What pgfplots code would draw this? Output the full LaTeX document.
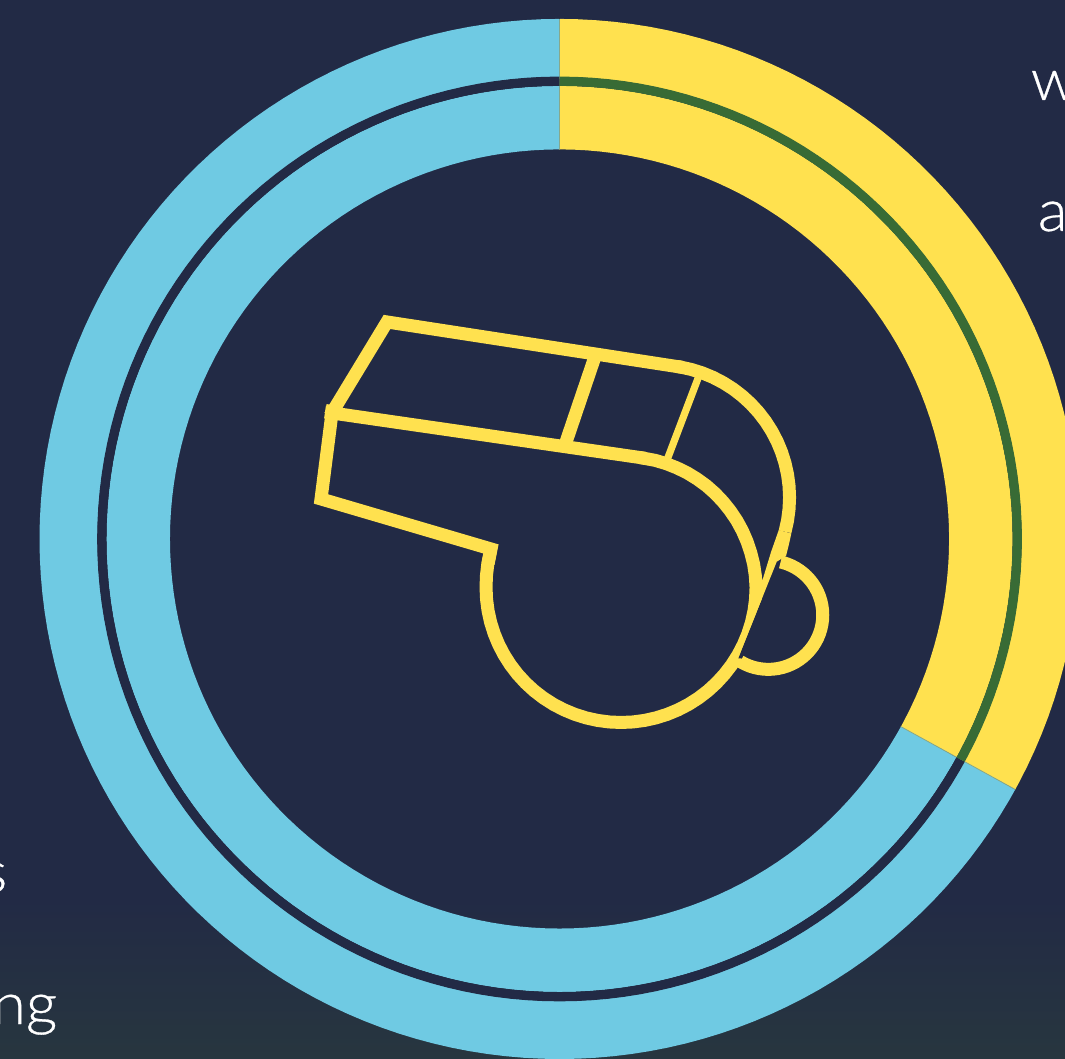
\documentclass[border=0pt]{standalone}
\usepackage{fontspec}
\usepackage{pgfplots}
\usepackage{pgfplotstable}
\pgfplotsset{compat=1.18}
\setmainfont[FakeBold=0.5,FakeStretch=1.06]{Lato Light}

\definecolor{navy}{HTML}{222A45}
\definecolor{navylow}{HTML}{27363F}
\definecolor{sun}{HTML}{FFE14F}
\definecolor{sky}{HTML}{6FCAE3}
\definecolor{moss}{HTML}{386B35}
\definecolor{seam}{HTML}{86A88C}

% Share of 33 per cent: angle in degrees, radius of outer band, inner band, gap
\pgfplotstableread{
a ro ri rg
90 491 421.3 457.7
88 491 421.3 457.7
86 491 421.3 457.7
84 491 421.3 457.7
82 491 421.3 457.7
80 491 421.3 457.7
78 491 421.3 457.7
76 491 421.3 457.7
74 491 421.3 457.7
72 491 421.3 457.7
70 491 421.3 457.7
68 491 421.3 457.7
66 491 421.3 457.7
64 491 421.3 457.7
62 491 421.3 457.7
60 491 421.3 457.7
58 491 421.3 457.7
56 491 421.3 457.7
54 491 421.3 457.7
52 491 421.3 457.7
50 491 421.3 457.7
48 491 421.3 457.7
46 491 421.3 457.7
44 491 421.3 457.7
42 491 421.3 457.7
40 491 421.3 457.7
38 491 421.3 457.7
36 491 421.3 457.7
34 491 421.3 457.7
32 491 421.3 457.7
30 491 421.3 457.7
28 491 421.3 457.7
26 491 421.3 457.7
24 491 421.3 457.7
22 491 421.3 457.7
20 491 421.3 457.7
18 491 421.3 457.7
16 491 421.3 457.7
14 491 421.3 457.7
12 491 421.3 457.7
10 491 421.3 457.7
8 491 421.3 457.7
6 491 421.3 457.7
4 491 421.3 457.7
2 491 421.3 457.7
0 491 421.3 457.7
-2 491 421.3 457.7
-4 491 421.3 457.7
-6 491 421.3 457.7
-8 491 421.3 457.7
-10 491 421.3 457.7
-12 491 421.3 457.7
-14 491 421.3 457.7
-16 491 421.3 457.7
-18 491 421.3 457.7
-20 491 421.3 457.7
-22 491 421.3 457.7
-24 491 421.3 457.7
-26 491 421.3 457.7
-28 491 421.3 457.7
-28.8 491 421.3 457.7
}\shareyes

% Remaining 67 per cent
\pgfplotstableread{
a ro ri rg
-28.8 491 421.3 457.7
-30 491 421.3 457.7
-32 491 421.3 457.7
-34 491 421.3 457.7
-36 491 421.3 457.7
-38 491 421.3 457.7
-40 491 421.3 457.7
-42 491 421.3 457.7
-44 491 421.3 457.7
-46 491 421.3 457.7
-48 491 421.3 457.7
-50 491 421.3 457.7
-52 491 421.3 457.7
-54 491 421.3 457.7
-56 491 421.3 457.7
-58 491 421.3 457.7
-60 491 421.3 457.7
-62 491 421.3 457.7
-64 491 421.3 457.7
-66 491 421.3 457.7
-68 491 421.3 457.7
-70 491 421.3 457.7
-72 491 421.3 457.7
-74 491 421.3 457.7
-76 491 421.3 457.7
-78 491 421.3 457.7
-80 491 421.3 457.7
-82 491 421.3 457.7
-84 491 421.3 457.7
-86 491 421.3 457.7
-88 491 421.3 457.7
-90 491 421.3 457.7
-92 491 421.3 457.7
-94 491 421.3 457.7
-96 491 421.3 457.7
-98 491 421.3 457.7
-100 491 421.3 457.7
-102 491 421.3 457.7
-104 491 421.3 457.7
-106 491 421.3 457.7
-108 491 421.3 457.7
-110 491 421.3 457.7
-112 491 421.3 457.7
-114 491 421.3 457.7
-116 491 421.3 457.7
-118 491 421.3 457.7
-120 491 421.3 457.7
-122 491 421.3 457.7
-124 491 421.3 457.7
-126 491 421.3 457.7
-128 491 421.3 457.7
-130 491 421.3 457.7
-132 491 421.3 457.7
-134 491 421.3 457.7
-136 491 421.3 457.7
-138 491 421.3 457.7
-140 491 421.3 457.7
-142 491 421.3 457.7
-144 491 421.3 457.7
-146 491 421.3 457.7
-148 491 421.3 457.7
-150 491 421.3 457.7
-152 491 421.3 457.7
-154 491 421.3 457.7
-156 491 421.3 457.7
-158 491 421.3 457.7
-160 491 421.3 457.7
-162 491 421.3 457.7
-164 491 421.3 457.7
-166 491 421.3 457.7
-168 491 421.3 457.7
-170 491 421.3 457.7
-172 491 421.3 457.7
-174 491 421.3 457.7
-176 491 421.3 457.7
-178 491 421.3 457.7
-180 491 421.3 457.7
-182 491 421.3 457.7
-184 491 421.3 457.7
-186 491 421.3 457.7
-188 491 421.3 457.7
-190 491 421.3 457.7
-192 491 421.3 457.7
-194 491 421.3 457.7
-196 491 421.3 457.7
-198 491 421.3 457.7
-200 491 421.3 457.7
-202 491 421.3 457.7
-204 491 421.3 457.7
-206 491 421.3 457.7
-208 491 421.3 457.7
-210 491 421.3 457.7
-212 491 421.3 457.7
-214 491 421.3 457.7
-216 491 421.3 457.7
-218 491 421.3 457.7
-220 491 421.3 457.7
-222 491 421.3 457.7
-224 491 421.3 457.7
-226 491 421.3 457.7
-228 491 421.3 457.7
-230 491 421.3 457.7
-232 491 421.3 457.7
-234 491 421.3 457.7
-236 491 421.3 457.7
-238 491 421.3 457.7
-240 491 421.3 457.7
-242 491 421.3 457.7
-244 491 421.3 457.7
-246 491 421.3 457.7
-248 491 421.3 457.7
-250 491 421.3 457.7
-252 491 421.3 457.7
-254 491 421.3 457.7
-256 491 421.3 457.7
-258 491 421.3 457.7
-260 491 421.3 457.7
-262 491 421.3 457.7
-264 491 421.3 457.7
-266 491 421.3 457.7
-268 491 421.3 457.7
-270 491 421.3 457.7
}\shareno

% Radial seams where the two shares meet
\pgfplotstableread{
a r
90 389.5
90 520
}\seamtop
\pgfplotstableread{
a r
-28.8 389.5
-28.8 520
}\seamend

% Whistle outline, x to the right and y downwards from the top left corner;
% arcs are listed as angle t and radius R around a given centre
\pgfplotsset{
  table/pix/.style={x expr=\thisrow{x}-559.5, y expr=539-\thisrow{y}},
  table/arc at/.style 2 args={
    x expr=#1+\thisrow{R}*cos(\thisrow{t})-559.5,
    y expr=539-#2-\thisrow{R}*sin(\thisrow{t})},
}

\begin{document}
\begin{tikzpicture}[x=1pt,y=1pt]
\path[use as bounding box,clip] (0,0) rectangle (1065,1058);
\fill[navy] (0,0) rectangle (1065,1058);
\shade[top color=navy,bottom color=navylow,shading angle=0] (0,0) rectangle (1065,160);
\begin{axis}[
  at={(0,0)},anchor=south west,
  width=1065pt,height=1058pt,scale only axis,
  xmin=-559.5,xmax=505.5,ymin=-519,ymax=539,
  hide axis,
  no markers,
  every axis plot/.append style={line cap=butt,line join=miter,miter limit=10},
]
% Outer and inner bands of the donut
\addplot[data cs=polar,sky,line width=58pt] table[x=a,y=ro] {\shareno};
\addplot[data cs=polar,sky,line width=63.5pt] table[x=a,y=ri] {\shareno};
\addplot[data cs=polar,sun,line width=58pt] table[x=a,y=ro] {\shareyes};
\addplot[data cs=polar,sun,line width=63.5pt] table[x=a,y=ri] {\shareyes};
\addplot[data cs=polar,seam,line width=0.8pt] table[x=a,y=r] {\seamtop};
\addplot[data cs=polar,seam,line width=0.8pt] table[x=a,y=r] {\seamend};
% Gap between the bands
\addplot[data cs=polar,navy,line width=9.3pt] table[x=a,y=rg] {\shareno};
\addplot[data cs=polar,moss,line width=9.3pt] table[x=a,y=rg] {\shareyes};

% Whistle: top of the barrel
\addplot[sun,line width=13pt] table[pix] {
x y
330 416
387 322
682.3 367.4
};
\addplot[sun,line width=13pt] table[arc at={657}{497.5}] {
t R
-81.3 132.5
-80 132.5
-75 132.5
-70 132.5
-65 132.5
-60 132.5
-55 132.5
-50 132.5
-45 132.5
-40 132.5
-35 132.5
-30 132.5
-25 132.5
-20 132.5
-15 132.5
-10 132.5
-5 132.5
0 132.5
5 132.5
10 132.5
15 132.5
};
% Mouthpiece and its lower edge
\addplot[sun,line width=13pt] table[pix] {
x y
333 405
321 499
491 549
488 564
};
\addplot[sun,line width=13pt] table[pix] {
x y
325 412
645 458.3
};
% Chamber
\addplot[sun,line width=13pt] table[arc at={621}{587.5}] {
t R
195 135.6
190 135.3
185 135.1
180 135
175 135
170 135
165 135
160 135
155 135
150 135
145 135
140 135
135 135
130 135
125 135
120 135
115 135
110 135
105 135
100 135
95 135
90 135
85 135
80 135
75 135
70 135
65 135
60 135
55 135
50 135
45 135
40 135
35 135
30 135
25 135
20 135
15 135
10 135
5 135
0 135
-5 134.8
-10 134.6
-15 134.3
-20 134.1
-25 133.9
-30 133.7
-35 133.4
-40 133.2
-45 133
-50 132.8
-55 132.5
-60 132.3
-65 132
-70 131.8
-75 131.6
-82 131.3
};
% Dividers across the barrel
\addplot[sun,line width=13pt] table[pix] {
x y
594.5 358
566 442
};
\addplot[sun,line width=7.2pt] table[pix] {
x y
698.5 377
667 460
};
% Inside of the ring, cut straight against the chamber
\addplot[navy,draw=none,fill=navy] table[pix] {
x y
776.7 561.7
738.3 658.3
760 660
810 620
790 565
};
% Taper running down from the barrel into the chamber
\addplot[sun,draw=none,fill=sun] table[pix] {
x y
791.3 533.5
788.5 546
786 556
776.7 561.7
738 658
750 610
763.3 577.3
771 552
778.7 530.1
};
% Ring of the whistle
\addplot[sun,line width=13pt] table[arc at={768.3}{615}] {
t R
-77 54.4
-75 54.4
-70 54.4
-65 54.4
-60 54.4
-55 54.4
-50 54.4
-45 54.4
-40 54.4
-35 54.4
-30 54.4
-25 54.4
-20 54.4
-15 54.4
-10 54.4
-5 54.4
0 54.4
5 54.4
10 54.4
15 54.4
20 54.4
25 54.4
30 54.4
35 54.4
40 54.4
45 54.4
50 54.4
55 54.4
60 54.4
65 54.4
70 54.4
75 54.4
80 54.4
85 54.4
90 54.4
95 54.4
100 54.4
105 54.4
110 54.4
115 54.4
121 54.4
};

% Words running off the edge of the page
\node[white,inner sep=0pt,font=\fontsize{58}{58}\selectfont,anchor=base west] at (axis cs:471,439) {w};
\node[white,inner sep=0pt,font=\fontsize{58}{58}\selectfont,anchor=base west] at (axis cs:478,308) {a};
\node[white,inner sep=0pt,font=\fontsize{58}{58}\selectfont,anchor=base east] at (axis cs:-552,-353) {s};
\node[white,inner sep=0pt,font=\fontsize{58}{58}\selectfont,anchor=base east] at (axis cs:-502,-485) {ng};
\end{axis}
\end{tikzpicture}
\end{document}
